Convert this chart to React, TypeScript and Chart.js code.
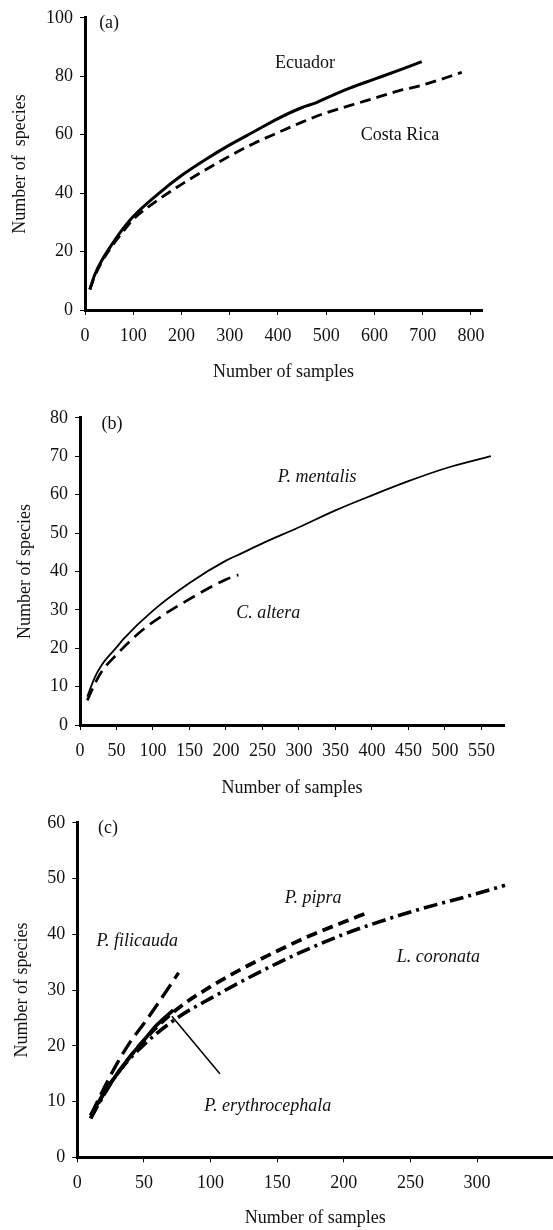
import React, { useEffect, useRef } from "react";
import { Chart, registerables } from "chart.js";

Chart.register(...registerables);

const FONT = "'Liberation Serif', 'Times New Roman', serif";
const INK = "#111";

// ---------- Panel (a) ----------
const aXTicks = [0, 100, 200, 300, 400, 500, 600, 700, 800];
const aYTicks = [0, 20, 40, 60, 80, 100];
const ecuadorX = [10, 20, 35, 50, 75, 100, 150, 200, 250, 300, 350, 400, 450, 480, 500, 550, 600, 650, 698];
const ecuadorY = [7, 12, 17, 21, 27, 32, 39.5, 46, 51.5, 56.5, 61, 65.5, 69.3, 71, 72.5, 76, 79, 82, 85];
const costaRicaX = [10, 20, 35, 50, 75, 100, 150, 200, 250, 300, 350, 400, 450, 500, 550, 600, 650, 700, 781];
const costaRicaY = [7, 11.5, 16.5, 20.5, 26, 31, 37.5, 43, 48, 52.7, 57, 60.7, 64.3, 67.5, 70, 72.5, 75, 77, 81.3];

// ---------- Panel (b) ----------
const bXTicks = [0, 50, 100, 150, 200, 250, 300, 350, 400, 450, 500, 550];
const bYTicks = [0, 10, 20, 30, 40, 50, 60, 70, 80];
const mentalisX = [10, 20, 30, 50, 60, 100, 150, 200, 219, 250, 300, 350, 400, 450, 500, 563];
const mentalisY = [7.4, 12.3, 15.7, 20.2, 22.5, 29.8, 37, 42.8, 44.5, 47.3, 51.5, 55.9, 59.8, 63.5, 66.8, 70];
const alteraX = [10, 20, 30, 50, 75, 100, 150, 200, 217];
const alteraY = [6.4, 10.6, 14, 18.3, 23, 26.8, 32.8, 37.9, 39.1];

// ---------- Panel (c) ----------
const cXTicks = [0, 50, 100, 150, 200, 250, 300];
const cYTicks = [0, 10, 20, 30, 40, 50, 60];
const erythroX = [10, 20, 30, 40, 50, 60, 72];
const erythroY = [7.5, 11.5, 15, 18.2, 21, 23.8, 26.4];
const filicaudaX = [10, 20, 30, 40, 50, 60, 76];
const filicaudaY = [7.5, 12.4, 16.9, 20.8, 24, 27.4, 33.1];
const pipraX = [10, 20, 30, 50, 75, 100, 125, 150, 175, 200, 217];
const pipraY = [7, 11.5, 15, 21, 26.6, 30.6, 34, 37, 39.8, 42.2, 43.8];
const coronataX = [10, 20, 30, 50, 75, 100, 150, 200, 250, 300, 321];
const coronataY = [7, 11.2, 15, 20.2, 25, 28.5, 34.8, 40, 44, 47.3, 48.8];
const pointerX = [71, 107];
const pointerY = [25.3, 15];

const pts = (xs: number[], ys: number[]) => xs.map((x, i) => ({ x, y: ys[i] }));

type Note = { text: string; x: number; y: number; italic?: boolean };

const notesPlugin = {
  id: "notes",
  afterDatasetsDraw(chart: any, _args: any, opts: any) {
    const { ctx } = chart;
    const xs = chart.scales.x;
    const ys = chart.scales.y;
    ctx.save();
    ctx.fillStyle = INK;
    ctx.textAlign = "center";
    ctx.textBaseline = "middle";
    for (const n of (opts.items || []) as Note[]) {
      ctx.font = `${n.italic ? "italic " : ""}18px ${FONT}`;
      ctx.fillText(n.text, xs.getPixelForValue(n.x), ys.getPixelForValue(n.y));
    }
    ctx.restore();
  },
};

type Series = { x: number[]; y: number[]; width: number; dash: number[] };

type PanelProps = {
  top: number;
  height: number;
  padTop: number;
  padRight: number;
  yAxisWidth: number;
  xAxisHeight: number;
  xMax: number;
  yMax: number;
  xTicks: number[];
  yTicks: number[];
  yTitle: string;
  yTitlePad: number;
  xTitlePad: number;
  series: Series[];
  notes: Note[];
};

function Panel(p: PanelProps) {
  const ref = useRef<HTMLCanvasElement | null>(null);
  useEffect(() => {
    if (!ref.current) return;
    const tickFont = { family: FONT, size: 18 };
    const chart = new Chart(ref.current, {
      type: "line",
      data: {
        datasets: p.series.map((s) => ({
          data: pts(s.x, s.y),
          borderColor: "#000",
          borderWidth: s.width,
          borderDash: s.dash,
          pointRadius: 0,
          fill: false,
          cubicInterpolationMode: "monotone",
        })),
      },
      options: {
        responsive: false,
        animation: false,
        devicePixelRatio: 1,
        layout: { padding: { top: p.padTop, right: p.padRight, left: 0, bottom: 0 } },
        plugins: {
          legend: { display: false },
          tooltip: { enabled: false },
          notes: { items: p.notes },
        } as any,
        scales: {
          x: {
            type: "linear",
            min: 0,
            max: p.xMax,
            afterBuildTicks: (s: any) => {
              s.ticks = p.xTicks.map((v) => ({ value: v }));
            },
            afterFit: (s: any) => {
              s.height = p.xAxisHeight;
            },
            grid: { drawOnChartArea: false, drawTicks: true, tickLength: 5, color: "#000", lineWidth: 1 },
            border: { display: true, color: "#000", width: 3 },
            ticks: { color: INK, font: tickFont, padding: 10, maxRotation: 0, autoSkip: false },
            title: {
              display: true,
              text: "Number of samples",
              color: INK,
              font: tickFont,
              padding: { top: 0, bottom: p.xTitlePad },
            },
          },
          y: {
            type: "linear",
            min: 0,
            max: p.yMax,
            afterBuildTicks: (s: any) => {
              s.ticks = p.yTicks.map((v) => ({ value: v }));
            },
            afterFit: (s: any) => {
              s.width = p.yAxisWidth;
            },
            grid: { drawOnChartArea: false, drawTicks: true, tickLength: 5, color: "#000", lineWidth: 1 },
            border: { display: true, color: "#000", width: 3 },
            ticks: { color: INK, font: tickFont, padding: 7, autoSkip: false },
            title: {
              display: true,
              text: p.yTitle,
              color: INK,
              font: tickFont,
              padding: { top: p.yTitlePad, bottom: 0 },
            },
          },
        },
      } as any,
      plugins: [notesPlugin as any],
    });
    return () => chart.destroy();
  }, []);
  return (
    <div style={{ position: "absolute", left: 0, top: p.top, width: 553, height: p.height }}>
      <canvas ref={ref} width={553} height={p.height} style={{ display: "block" }} />
    </div>
  );
}

export default function App() {
  return (
    <div style={{ position: "absolute", left: 0, top: 0, width: 553, height: 1230, background: "#fff", overflow: "hidden" }}>
      <Panel
        top={0}
        height={400}
        padTop={16}
        padRight={71}
        yAxisWidth={85}
        xAxisHeight={90}
        xMax={823}
        yMax={100}
        xTicks={aXTicks}
        yTicks={aYTicks}
        yTitle="Number of  species"
        yTitlePad={9}
        xTitlePad={17}
        series={[
          { x: ecuadorX, y: ecuadorY, width: 3, dash: [] },
          { x: costaRicaX, y: costaRicaY, width: 2.8, dash: [11, 6] },
        ]}
        notes={[
          { text: "(a)", x: 50, y: 98 },
          { text: "Ecuador", x: 456, y: 84.4 },
          { text: "Costa Rica", x: 653, y: 59.9 },
        ]}
      />
      <Panel
        top={400}
        height={405}
        padTop={11.7}
        padRight={49}
        yAxisWidth={80}
        xAxisHeight={80}
        xMax={581}
        yMax={80}
        xTicks={bXTicks}
        yTicks={bYTicks}
        yTitle="Number of species"
        yTitlePad={14}
        xTitlePad={6}
        series={[
          { x: mentalisX, y: mentalisY, width: 1.8, dash: [] },
          { x: alteraX, y: alteraY, width: 2.7, dash: [13, 7] },
        ]}
        notes={[
          { text: "(b)", x: 44, y: 78.4 },
          { text: "P. mentalis", x: 325, y: 64.6, italic: true },
          { text: "C. altera", x: 258, y: 29.1, italic: true },
        ]}
      />
      <Panel
        top={805}
        height={425}
        padTop={17.7}
        padRight={0}
        yAxisWidth={77.3}
        xAxisHeight={72.7}
        xMax={357}
        yMax={60}
        xTicks={cXTicks}
        yTicks={cYTicks}
        yTitle="Number of species"
        yTitlePad={11}
        xTitlePad={1}
        series={[
          { x: pointerX, y: pointerY, width: 1.5, dash: [] },
          { x: coronataX, y: coronataY, width: 3.6, dash: [14, 5, 3, 5] },
          { x: pipraX, y: pipraY, width: 3.8, dash: [11, 6] },
          { x: filicaudaX, y: filicaudaY, width: 3.3, dash: [16, 7] },
          { x: erythroX, y: erythroY, width: 3.6, dash: [] },
        ]}
        notes={[
          { text: "(c)", x: 23, y: 59 },
          { text: "P. pipra", x: 177, y: 46.5, italic: true },
          { text: "P. filicauda", x: 45, y: 38.8, italic: true },
          { text: "L. coronata", x: 271, y: 35.8, italic: true },
          { text: "P. erythrocephala", x: 143, y: 9.2, italic: true },
        ]}
      />
    </div>
  );
}
